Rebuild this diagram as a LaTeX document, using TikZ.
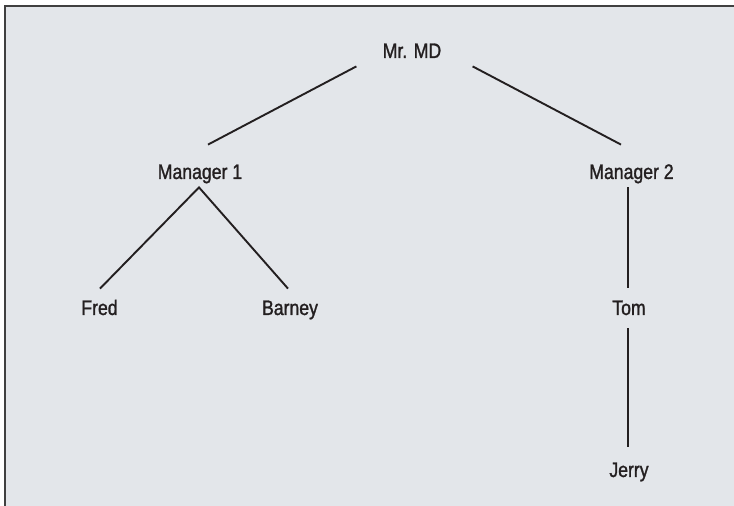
\documentclass[tikz,border=0pt]{standalone}
\usepackage{fontspec}
\setmainfont{Liberation Sans}[FakeStretch=0.84, FakeBold=1.3]
\usetikzlibrary{calc}
\definecolor{paper}{HTML}{E3E6EA}
\definecolor{ink}{HTML}{231F20}
\tikzset{
    member/.style={anchor=base, inner sep=0pt, text height=7.5pt, text depth=2pt,
        text=ink, font=\fontsize{10.5}{12}\selectfont},
    link/.style={draw=ink, line width=0.95pt}
}
\begin{document}
\begin{tikzpicture}[x=0.5pt, y=-0.5pt]
    \useasboundingbox (0,0) rectangle (734,506);
    % panel
    \fill[paper] (4.5,5.8) rectangle (734,506);
    \draw[line width=1pt, draw=black!75] (734,5.8) -- (4.5,5.8) -- (4.5,506);
    % people
    \node[member] (md) at (412,58) {Mr. MD};
    \node[member] (m1) at (200,179) {Manager 1};
    \node[member] (m2) at (631.5,179) {Manager 2};
    \node[member] (fred) at (99.5,315) {Fred};
    \node[member] (barney) at (290,315) {Barney};
    \node[member] (tom) at (629,315) {Tom};
    \node[member] (jerry) at (629,477) {Jerry};
    % lines
    \draw[link] ($(md.south west)+(-26,4)$) -- ($(m1.north)+(8,-19)$);
    \draw[link] ($(md.south east)+(31,4)$) -- ($(m2.north)+(-10.5,-19)$);
    \draw[link] ($(fred.north)+(0.5,-11)$) -- ($(m1.south)+(-1,4)$)
        -- ($(barney.north)+(-2,-11)$);
    \draw[link] ($(tom.north |- m2.south)+(-1,4)$) -- ($(tom.north)+(-1,-12)$);
    \draw[link] ($(tom.south)+(-1,9)$) -- ($(jerry.north)+(-1,-15)$);
\end{tikzpicture}
\end{document}
